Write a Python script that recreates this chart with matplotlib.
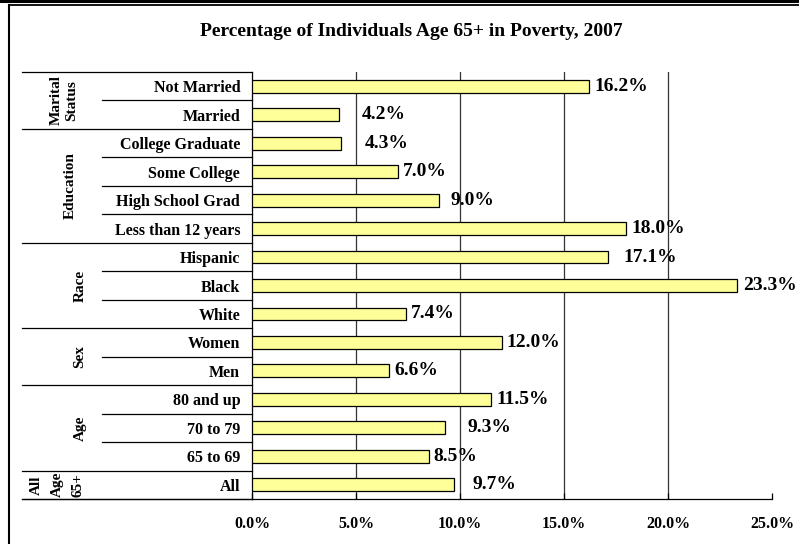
import matplotlib
matplotlib.use('Agg')
import matplotlib.pyplot as plt
from matplotlib import transforms
from matplotlib.lines import Line2D

# poverty rates for people 65+, by subgroup (top to bottom)
categories = ['Not Married', 'Married', 'College Graduate', 'Some College',
              'High School Grad', 'Less than 12 years', 'Hispanic', 'Black',
              'White', 'Women', 'Men', '80 and up', '70 to 79', '65 to 69', 'All']
poverty_pct = [16.2, 4.2, 4.3, 7.0, 9.0, 18.0, 17.1, 23.3, 7.4, 12.0, 6.6,
               11.5, 9.3, 8.5, 9.7]
group_sizes = [2, 4, 3, 2, 3, 1]
x_ticks = [0, 5, 10, 15, 20, 25]

# group captions: (text, x centre in pixels) for each line of the caption
group_lines = [
    [('Marital', 56), ('Status', 72)],
    [('Education', 70)],
    [('Race', 80)],
    [('Sex', 80)],
    [('Age', 80)],
    [('All', 36), ('Age', 57), ('65+', 78)],
]
# horizontal nudge of each value label away from its bar end (pixels)
label_dx = [5, 22, 23, 5, 11, 5, 16, 6, 5, 5, 5, 5, 22, 5, 19]

W, H = 799, 544
FONT = 'Liberation Serif'

fig = plt.figure(figsize=(W / 100, H / 100), dpi=100)
ax = fig.add_axes([252 / W, 1 - 499 / H, (772 - 252) / W, (499 - 72) / H])

n = len(categories)
ypos = list(range(n))
ax.barh(ypos, poverty_pct, height=0.45, color='#FFFF99', edgecolor='black',
        linewidth=0.9, zorder=3)

for i, v in enumerate(poverty_pct):
    ax.annotate('{:.1f}%'.format(v), xy=(v, i), xytext=(label_dx[i], 0),
                textcoords='offset pixels', ha='left', va='center',
                fontsize=14, fontweight='bold', family=FONT, zorder=4)

ax.set_xlim(0, 25)
ax.set_ylim(n - 0.5, -0.5)
ax.set_xticks(x_ticks)
ax.set_xticklabels(['{:.1f}%'.format(t) for t in x_ticks],
                   fontsize=11.5, fontweight='bold', family=FONT)
ax.set_yticks(ypos)
ax.set_yticklabels(categories, fontsize=11.5, fontweight='bold', family=FONT)
ax.tick_params(axis='y', length=0, pad=8.5)
ax.tick_params(axis='x', length=4, direction='in', pad=12.5, width=0.9)
for t in x_ticks[1:-1]:
    ax.axvline(t, color='#333333', linewidth=0.9, zorder=1)
for side in ['top', 'right']:
    ax.spines[side].set_visible(False)
ax.spines['left'].set_linewidth(0.9)
ax.spines['bottom'].set_linewidth(0.9)

# category table on the left: row rules and rotated group captions
trans = transforms.blended_transform_factory(fig.transFigure, ax.transData)
x_outer, x_inner, x_axis = 22 / W, 102 / W, 252 / W
start = 0
ax.plot([x_outer, x_axis], [-0.5, -0.5], transform=trans, color='black',
        linewidth=0.9, clip_on=False)
ax.plot([x_outer, x_axis], [n - 0.5, n - 0.5], transform=trans, color='black',
        linewidth=0.9, clip_on=False)
for size, lines in zip(group_sizes, group_lines):
    end = start + size
    ax.plot([x_outer, x_axis], [end - 0.5, end - 0.5], transform=trans,
            color='black', linewidth=0.9, clip_on=False)
    for k in range(start + 1, end):
        ax.plot([x_inner, x_axis], [k - 0.5, k - 0.5], transform=trans,
                color='black', linewidth=0.9, clip_on=False)
    yc = (start + end - 1) / 2
    for text, xc in lines:
        ax.text(xc / W, yc, text, transform=trans, rotation=90, ha='center',
                va='center', fontsize=11, fontweight='bold', family=FONT)
    start = end

fig.text(411 / W, 1 - 32 / H, 'Percentage of Individuals Age 65+ in Poverty, 2007',
         ha='center', va='center', fontsize=14, fontweight='bold', family=FONT)

# outer frame
fig.add_artist(Line2D([0, 1], [1 - 1 / H, 1 - 1 / H], transform=fig.transFigure,
                      color='black', linewidth=2.2))
fig.add_artist(Line2D([9 / W, 1], [1 - 5 / H, 1 - 5 / H], transform=fig.transFigure,
                      color='black', linewidth=1.3))
fig.add_artist(Line2D([9 / W, 9 / W], [0, 1 - 5 / H], transform=fig.transFigure,
                      color='black', linewidth=1.5))

fig.savefig('out.png', dpi=100)
